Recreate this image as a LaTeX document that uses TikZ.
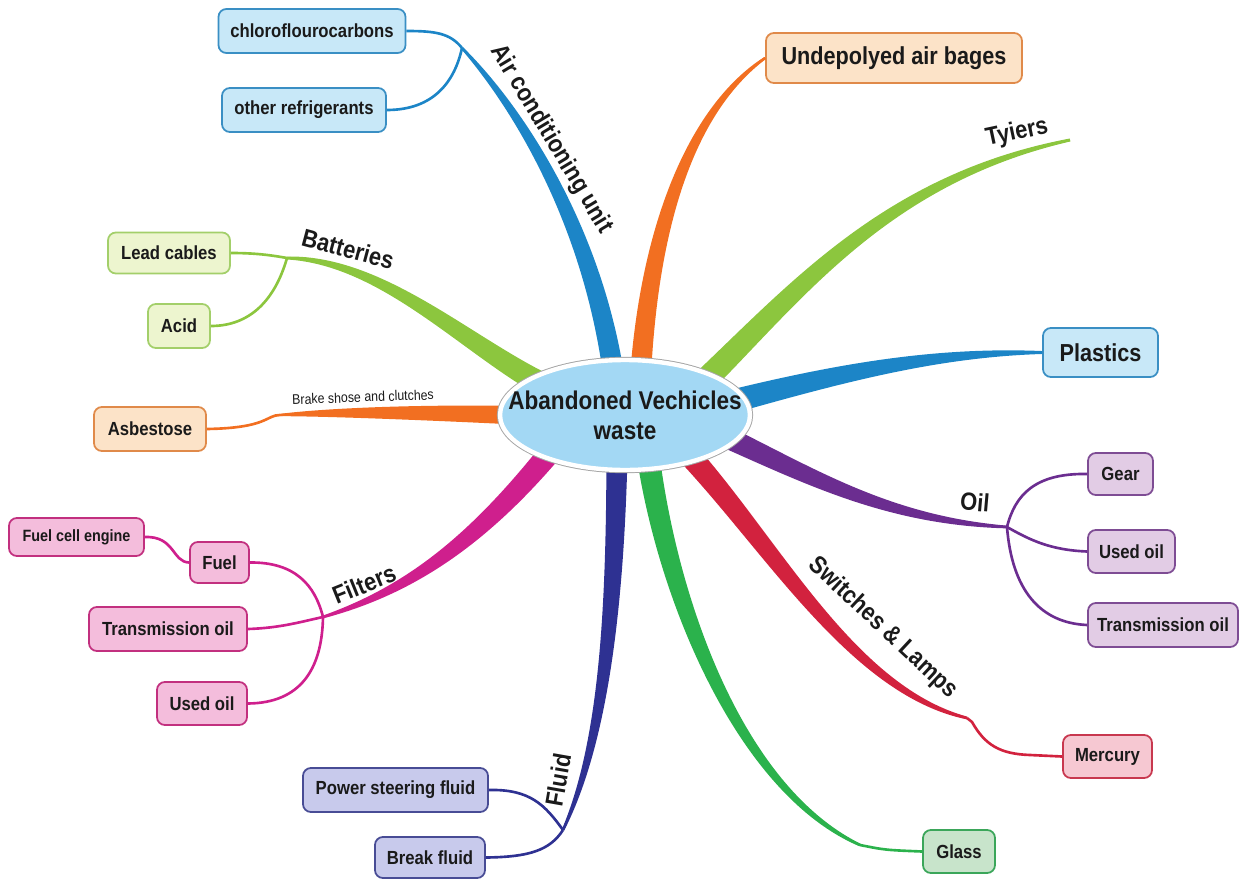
\documentclass[tikz,border=0pt]{standalone}
\usepackage{fontspec}
\setmainfont{Liberation Sans}[FakeStretch=0.88]
\usetikzlibrary{calc, shapes.geometric}

% tapered branch: colour, root, control 1, control 2, tip, half width
\newcommand{\taper}[6]{%
    \fill[#1] ($(#2)!#6!90:(#3)$)
        .. controls ($(#3)!0.85*#6!-90:(#2)$) and ($(#4)!0.45*#6!90:(#5)$) .. ($(#5)!0.12*#6!-90:(#4)$)
        -- ($(#5)!0.12*#6!90:(#4)$)
        .. controls ($(#4)!0.45*#6!-90:(#5)$) and ($(#3)!0.85*#6!90:(#2)$) .. ($(#2)!#6!-90:(#3)$) -- cycle;
    \draw[#1, line width=1.3pt] (#2) .. controls (#3) and (#4) .. (#5);
}

\tikzset{
    leaf/.style 2 args={draw=#1, fill=#2, line width=1pt, rounded corners=4.5pt,
        inner sep=0pt, text=textColour, font=\fontsize{10.8}{12}\selectfont\bfseries},
    bigleaf/.style={font=\fontsize{14}{16}\selectfont\bfseries},
    smallleaf/.style={font=\fontsize{9.3}{11}\selectfont\bfseries},
    twig/.style={line width=1.5pt},
    branchlabel/.style={inner sep=1pt, text=textColour, font=\fontsize{14.2}{16}\selectfont\bfseries},
    hub/.style={ellipse, minimum width=5cm, minimum height=2.2cm, inner sep=0pt,
        fill=hubFill, draw=white, line width=2.5pt, preaction={draw=gray!70, line width=3.6pt}},
    hubtext/.style={inner sep=0pt, align=center, text=textColour, font=\fontsize{14.6}{17}\selectfont\bfseries}
}

\begin{document}
\begin{tikzpicture}[x=0.02cm, y=-0.02cm]
    % one pixel of the page
    \def\pix{0.02cm}

    \definecolor{textColour}{HTML}{1A1A1A}
    \definecolor{hubFill}{HTML}{A3D8F4}
    \definecolor{acBlue}{HTML}{1C85C7}
    \definecolor{blueFill}{HTML}{C8E8F8}
    \definecolor{blueBorder}{HTML}{3A8FC4}
    \definecolor{bagOrange}{HTML}{F26F21}
    \definecolor{orangeFill}{HTML}{FCE3C8}
    \definecolor{orangeBorder}{HTML}{E08A4A}
    \definecolor{limeGreen}{HTML}{8CC63E}
    \definecolor{limeFill}{HTML}{EDF5CF}
    \definecolor{limeBorder}{HTML}{A3CF6A}
    \definecolor{oilPurple}{HTML}{6B2D90}
    \definecolor{purpleFill}{HTML}{E2CCE5}
    \definecolor{purpleBorder}{HTML}{7E4C94}
    \definecolor{lampRed}{HTML}{D2223E}
    \definecolor{redFill}{HTML}{F6C8D2}
    \definecolor{redBorder}{HTML}{C8384F}
    \definecolor{glassGreen}{HTML}{2BB24C}
    \definecolor{greenFill}{HTML}{C8E4CB}
    \definecolor{greenBorder}{HTML}{3BA65A}
    \definecolor{fluidNavy}{HTML}{2E3192}
    \definecolor{navyFill}{HTML}{C8CAEC}
    \definecolor{navyBorder}{HTML}{484C95}
    \definecolor{filterMagenta}{HTML}{CF1F8D}
    \definecolor{magentaFill}{HTML}{F4BDDC}
    \definecolor{magentaBorder}{HTML}{C2307F}

    \useasboundingbox (0,0) rectangle (1241,879);

    % Leaf boxes
    \node[leaf={blueBorder}{blueFill}, minimum width=187*\pix, minimum height=44*\pix] (chloro) at (312,31) {chloroflourocarbons};
    \node[leaf={blueBorder}{blueFill}, minimum width=164*\pix, minimum height=44*\pix] (otherref) at (304,110) {other refrigerants};
    \node[leaf={limeBorder}{limeFill}, minimum width=122*\pix, minimum height=41*\pix] (lead) at (169,253) {Lead cables};
    \node[leaf={limeBorder}{limeFill}, minimum width=62*\pix, minimum height=44*\pix] (acid) at (179,326) {Acid};
    \node[leaf={orangeBorder}{orangeFill}, minimum width=112*\pix, minimum height=44*\pix] (asbestos) at (150,429) {Asbestose};
    \node[leaf={magentaBorder}{magentaFill}, smallleaf, minimum width=135*\pix, minimum height=38*\pix] (fuelcell) at (76.5,537) {Fuel cell engine};
    \node[leaf={magentaBorder}{magentaFill}, minimum width=59*\pix, minimum height=41*\pix] (fuel) at (219.5,562.5) {Fuel};
    \node[leaf={magentaBorder}{magentaFill}, minimum width=158*\pix, minimum height=44*\pix] (transL) at (168,629) {Transmission oil};
    \node[leaf={magentaBorder}{magentaFill}, minimum width=90*\pix, minimum height=43*\pix] (usedL) at (202,703.5) {Used oil};
    \node[leaf={navyBorder}{navyFill}, minimum width=185*\pix, minimum height=44*\pix] (psfluid) at (395.5,790) {Power steering fluid};
    \node[leaf={navyBorder}{navyFill}, minimum width=110*\pix, minimum height=41*\pix] (breakfl) at (430,857.5) {Break fluid};
    \node[leaf={orangeBorder}{orangeFill}, bigleaf, minimum width=256*\pix, minimum height=50*\pix] (airbag) at (894,58) {Undepolyed air bages};
    \node[leaf={blueBorder}{blueFill}, bigleaf, minimum width=115*\pix, minimum height=49*\pix] (plastics) at (1100.5,352.5) {Plastics};
    \node[leaf={purpleBorder}{purpleFill}, minimum width=65*\pix, minimum height=42*\pix] (gear) at (1120.5,474) {Gear};
    \node[leaf={purpleBorder}{purpleFill}, minimum width=87*\pix, minimum height=43*\pix] (usedR) at (1131.5,551.5) {Used oil};
    \node[leaf={purpleBorder}{purpleFill}, minimum width=150*\pix, minimum height=44*\pix] (transR) at (1163,625) {Transmission oil};
    \node[leaf={redBorder}{redFill}, minimum width=89*\pix, minimum height=43*\pix] (mercury) at (1107.5,756.5) {Mercury};
    \node[leaf={greenBorder}{greenFill}, minimum width=72*\pix, minimum height=43*\pix] (glass) at (959,851.5) {Glass};

    % Roots inside the hub and tips of the branches
    \coordinate (acRoot) at (615,385);    \coordinate (acTip) at (462,48);
    \coordinate (bagRoot) at (640,385);
    \coordinate (tyreRoot) at (690,395);  \coordinate (tyreTip) at (1070,140);
    \coordinate (plastRoot) at (700,410);
    \coordinate (oilRoot) at (700,425);   \coordinate (oilTip) at (1007,527);
    \coordinate (lampRoot) at (680,445);  \coordinate (lampTip) at (967,718);
    \coordinate (glassRoot) at (648,455); \coordinate (glassTip) at (860,845);
    \coordinate (fluidRoot) at (617,455); \coordinate (fluidTip) at (563,830);
    \coordinate (filtRoot) at (560,440);  \coordinate (filtTip) at (323,617);
    \coordinate (brakeRoot) at (540,416); \coordinate (brakeTip) at (280,415);
    \coordinate (batRoot) at (565,395);   \coordinate (batTip) at (287,258);

    % Draw the tapered branches
    \taper{acBlue}{acRoot}{595,230}{520,110}{acTip}{6pt}
    \taper{bagOrange}{bagRoot}{648,230}{690,110}{airbag.west}{6pt}
    \taper{limeGreen}{tyreRoot}{790,300}{880,180}{tyreTip}{7pt}
    \taper{acBlue}{plastRoot}{830,375}{930,352}{plastics.west}{7pt}
    \taper{oilPurple}{oilRoot}{800,470}{880,520}{oilTip}{6.5pt}
    \taper{lampRed}{lampRoot}{770,540}{850,690}{lampTip}{6.5pt}
    \taper{glassGreen}{glassRoot}{668,600}{740,790}{glassTip}{6.5pt}
    \taper{fluidNavy}{fluidRoot}{615,600}{605,740}{fluidTip}{6pt}
    \taper{filterMagenta}{filtRoot}{480,540}{410,590}{filtTip}{6.5pt}
    \taper{bagOrange}{brakeRoot}{430,412}{330,412}{brakeTip}{5.5pt}
    \taper{limeGreen}{batRoot}{480,360}{390,260}{batTip}{7pt}

    % Draw the twigs to the leaf boxes
    \draw[twig, acBlue] (acTip) .. controls (450,33) and (435,31) .. (chloro.east);
    \draw[twig, acBlue] (acTip) .. controls (455,80) and (435,110) .. (otherref.east);
    \draw[twig, limeGreen] (batTip) .. controls (270,255) and (255,253) .. (lead.east);
    \draw[twig, limeGreen] (batTip) .. controls (275,300) and (250,326) .. (acid.east);
    \draw[twig, bagOrange] (brakeTip) .. controls (266,415) and (268,428) .. (asbestos.east);
    \draw[twig, filterMagenta] (filtTip) .. controls (315,585) and (295,562) .. (fuel.east);
    \draw[twig, filterMagenta] (filtTip) .. controls (300,622) and (280,628) .. (transL.east);
    \draw[twig, filterMagenta] (filtTip) .. controls (322,670) and (300,703) .. (usedL.east);
    \draw[twig, filterMagenta] (fuelcell.east) .. controls (175,536) and (172,562) .. (fuel.west);
    \draw[twig, fluidNavy] (fluidTip) .. controls (545,805) and (530,789) .. (psfluid.east);
    \draw[twig, fluidNavy] (fluidTip) .. controls (550,850) and (530,857) .. (breakfl.east);
    \draw[twig, glassGreen] (glassTip) .. controls (885,850) .. (glass.west);
    \draw[twig, lampRed] (lampTip) -- (972,722) .. controls (985,745) and (1000,754) .. (1030,755) -- (mercury.west);
    \draw[twig, oilPurple] (oilTip) .. controls (1015,495) and (1035,473) .. (gear.west);
    \draw[twig, oilPurple] (oilTip) .. controls (1030,540) and (1050,550) .. (usedR.west);
    \draw[twig, oilPurple] (oilTip) .. controls (1012,590) and (1040,623) .. (transR.west);

    % Branch labels
    \node[branchlabel, rotate=-59] (acLabel) at (551,139) {Air conditioning unit};
    \node[branchlabel, rotate=12] (tyreLabel) at (1017,133) {Tyiers};
    \node[branchlabel, rotate=-15] (batLabel) at (348,249) {Batteries};
    \node[inner sep=1pt, text=textColour, font=\fontsize{8}{9}\selectfont, rotate=2] (brakeLabel) at (363,397) {Brake shose and clutches};
    \node[branchlabel, rotate=22] (filtLabel) at (364,584) {Filters};
    \node[branchlabel, rotate=80] (fluidLabel) at (558,780) {Fluid};
    \node[branchlabel, rotate=-43] (lampLabel) at (883,628) {Switches \& Lamps};
    \node[branchlabel, rotate=-5] (oilLabel) at (975,502) {Oil};

    % Central hub
    \node[hub] (hub) at (625,415) {};
    \node[hubtext] (hubText) at (hub.center) {Abandoned Vechicles\\waste};
\end{tikzpicture}
\end{document}
